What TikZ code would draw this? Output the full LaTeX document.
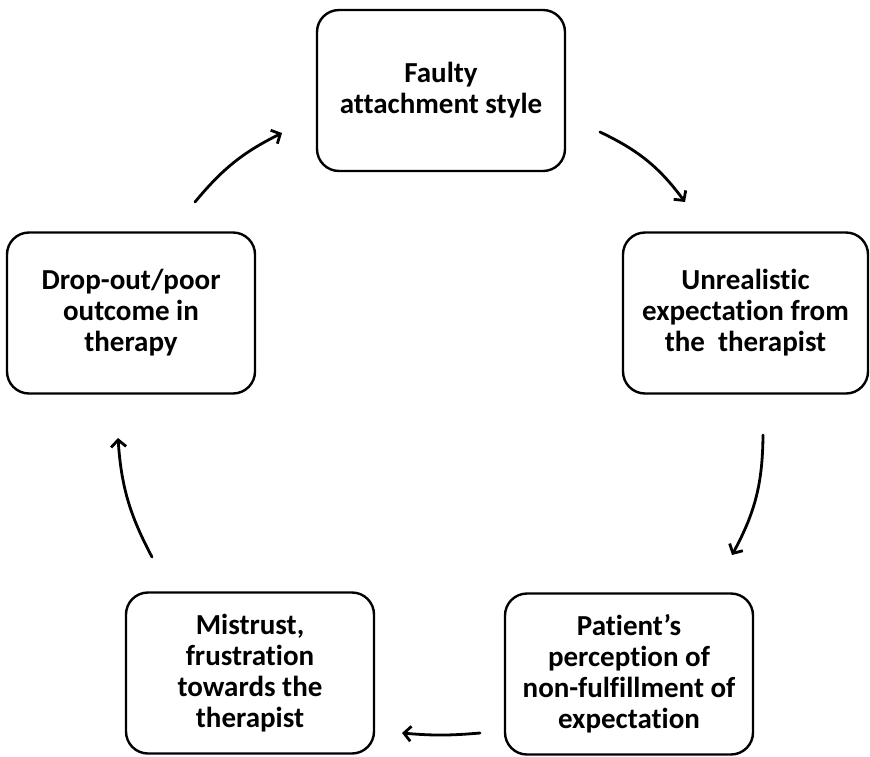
\documentclass[tikz,border=0pt]{standalone}
\usepackage{fontspec}
\setmainfont{Carlito}[Ligatures=NoCommon]
\usetikzlibrary{arrows.meta}
\begin{document}
\begin{tikzpicture}[x=1pt,y=-1pt,
  box/.style={draw, line width=2.4pt, rounded corners=22pt, minimum width=248pt, minimum height=161pt, align=center, inner sep=0pt, font=\fontsize{29}{31}\selectfont\bfseries},
  cyc/.style={line width=2.8pt, -{Straight Barb[length=7pt,width=15pt]}, line cap=round}]
\useasboundingbox (0,0) rectangle (870,756);
\node[box] (top) at (441,90.5) {Faulty\\attachment style};
\node[box, minimum width=245pt] (right) at (745.5,313) {Unrealistic\\expectation from\\the\ \ therapist};
\node[box] (left) at (131,313) {Drop-out/poor\\outcome in\\therapy};
\node[box] (bl) at (250,673) {Mistrust,\\frustration\\towards the\\therapist};
\node[box] (br) at (629,674) {Patient’s\\perception of\\non-fulfillment of\\expectation};
\coordinate (a1s) at (600,132); \coordinate (a1e) at (685,202);
\coordinate (a2s) at (763,435); \coordinate (a2e) at (732,555);
\coordinate (a3s) at (480,733); \coordinate (a3e) at (402,733);
\coordinate (a4s) at (152,557); \coordinate (a4e) at (118,438);
\coordinate (a5s) at (195,202); \coordinate (a5e) at (282,133);
\draw[cyc] (a1s) to[bend left=14] (a1e);
\draw[cyc] (a2s) to[bend left=14] (a2e);
\draw[cyc] (a3s) to[bend left=5] (a3e);
\draw[cyc] (a4s) to[bend left=12] (a4e);
\draw[cyc] (a5s) to[bend left=12] (a5e);
\end{tikzpicture}
\end{document}
